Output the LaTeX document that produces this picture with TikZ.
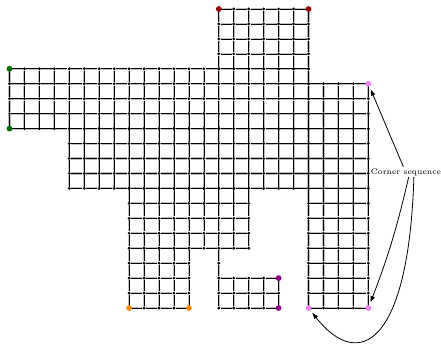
\documentclass[tikz,border=0pt]{standalone}
\usepackage{xcolor}
\usepackage{tikz}
\usetikzlibrary{arrows.meta}

\definecolor{cgreen}{RGB}{0,110,0}
\definecolor{cred}{RGB}{150,0,0}
\definecolor{cpink}{RGB}{238,130,238}
\definecolor{corange}{RGB}{255,140,0}
\definecolor{cpurple}{RGB}{140,0,140}

\tikzset{
  dot/.style={circle,fill=black,inner sep=0pt,minimum size=2.4pt},
  corner/.style={circle,inner sep=0pt,minimum size=4.4pt},
  link/.style={draw=black,line width=0.5pt,preaction={draw=gray!50,line width=1.6pt}},
  pointer/.style={-{Latex[length=5pt,width=3.6pt]},semithick,shorten >=2pt}
}

% one rectangular piece of the grid: cols #1..#2, rows #3..#4
\newcommand{\gridblock}[4]{%
  \foreach \i in {#1,...,#2}
    \foreach \r in {#3,...,#4}
      \node[dot] (v\i-\r) at (\i,-\r) {};
  \foreach \i in {#1,...,#2}
    \foreach \r in {#3,...,#4}{
      \pgfmathtruncatemacro{\ii}{\i+1}
      \pgfmathtruncatemacro{\rr}{\r+1}
      \ifnum\i<#2 \draw[link] (v\i-\r) -- (v\ii-\r);\fi
      \ifnum\r<#4 \draw[link] (v\i-\r) -- (v\i-\rr);\fi
    }%
}

\begin{document}
\begin{tikzpicture}[x=0.4cm,y=0.4cm]
  \useasboundingbox (-0.635,0.602) rectangle (28.86,-22.54);

  \gridblock{14}{20}{0}{4}
  \gridblock{0}{20}{4}{8}
  \gridblock{20}{24}{5}{20}
  \gridblock{4}{20}{8}{12}
  \gridblock{8}{16}{12}{16}
  \gridblock{8}{12}{16}{20}
  \gridblock{14}{18}{18}{20}

  \node[dot] (v14-17) at (14,-17) {};
  \draw[link] (v14-16) -- (v14-17);
  \draw[link] (v14-17) -- (v14-18);

  % corners
  \node[corner,fill=cgreen] (g1) at (0,-4) {};
  \node[corner,fill=cgreen] (g2) at (0,-8) {};
  \node[corner,fill=cred] (r1) at (14,0) {};
  \node[corner,fill=cred] (r2) at (20,0) {};
  \node[corner,fill=cpink] (p1) at (24,-5) {};
  \node[corner,fill=cpink] (p2) at (24,-20) {};
  \node[corner,fill=cpink] (p3) at (20,-20) {};
  \node[corner,fill=corange] (o1) at (8,-20) {};
  \node[corner,fill=corange] (o2) at (12,-20) {};
  \node[corner,fill=cpurple] (m1) at (18,-18) {};
  \node[corner,fill=cpurple] (m2) at (18,-20) {};

  \node[font=\fontsize{6.1}{7}\selectfont,inner sep=1pt] (cs) at (26.52,-10.9) {Corner sequence};

  \draw[pointer] ([xshift=-2pt]cs.north) -- (p1);
  \draw[pointer] ([xshift=2pt]cs.south) to[bend left=4] (p2);
  \draw[pointer] ([xshift=6pt]cs.south) .. controls (26.7,-22.4) and (23.4,-24.3) .. (p3);
\end{tikzpicture}
\end{document}
